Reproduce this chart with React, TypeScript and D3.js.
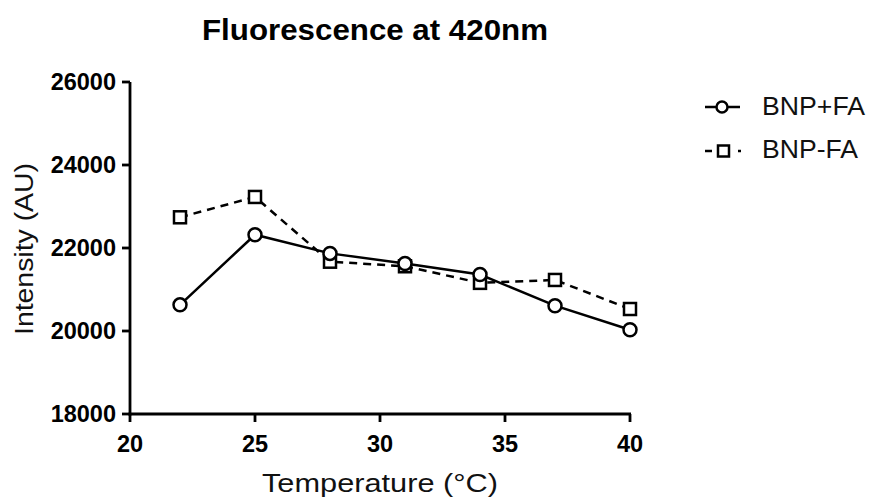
import React from "react";
import * as d3 from "d3";

const temperatures = [22, 25, 28, 31, 34, 37, 40];
const bnpPlusFa = [20630, 22320, 21870, 21625, 21360, 20610, 20030];
const bnpMinusFa = [22740, 23230, 21670, 21560, 21160, 21230, 20530];
const xTicks = [20, 25, 30, 35, 40];
const yTicks = [18000, 20000, 22000, 24000, 26000];
const seriesNames = ["BNP+FA", "BNP-FA"];

const W = 869;
const H = 498;
const FONT = "'Liberation Sans', Arial, sans-serif";

export default function App() {
  const x = d3.scaleLinear().domain([20, 40]).range([130, 630]);
  const y = d3.scaleLinear().domain([18000, 26000]).range([414, 82]);

  const line = d3
    .line<[number, number]>()
    .x((d) => x(d[0]))
    .y((d) => y(d[1]));

  const plus: [number, number][] = temperatures.map((t, i) => [t, bnpPlusFa[i]]);
  const minus: [number, number][] = temperatures.map((t, i) => [t, bnpMinusFa[i]]);

  const sq = 12;
  const sw = 2.5;

  return (
    <svg width={W} height={H} style={{ position: "absolute", left: 0, top: 0 }}>
      <rect width={W} height={H} fill="#fff" />
      <text
        x={375}
        y={40}
        textAnchor="middle"
        fontFamily={FONT}
        fontWeight="bold"
        fontSize={30}
        textLength={346}
        lengthAdjust="spacingAndGlyphs"
      >
        Fluorescence at 420nm
      </text>

      {/* series lines */}
      <path d={line(minus) || ""} fill="none" stroke="#000" strokeWidth={sw} strokeDasharray="8,6" />
      <path d={line(plus) || ""} fill="none" stroke="#000" strokeWidth={sw} />

      {/* markers */}
      {minus.map((d, i) => (
        <rect
          key={"s" + i}
          x={x(d[0]) - sq / 2}
          y={y(d[1]) - sq / 2}
          width={sq}
          height={sq}
          fill="#fff"
          stroke="#000"
          strokeWidth={sw}
        />
      ))}
      {plus.map((d, i) => (
        <circle key={"c" + i} cx={x(d[0])} cy={y(d[1])} r={6.5} fill="#fff" stroke="#000" strokeWidth={sw} />
      ))}

      {/* axes */}
      <line x1={130} x2={130} y1={y(26000)} y2={y(18000) + 1.5} stroke="#000" strokeWidth={2.8} />
      <line x1={128.6} x2={631} y1={414} y2={414} stroke="#000" strokeWidth={2.8} />
      {yTicks.map((t) => (
        <g key={"y" + t}>
          <line x1={122} x2={130} y1={y(t)} y2={y(t)} stroke="#000" strokeWidth={2.8} />
          <text x={116} y={y(t) + 7.5} textAnchor="end" fontFamily={FONT} fontWeight="bold" fontSize={23.5}>
            {t}
          </text>
        </g>
      ))}
      {xTicks.map((t) => (
        <g key={"x" + t}>
          <line x1={x(t)} x2={x(t)} y1={414} y2={422} stroke="#000" strokeWidth={2.8} />
          <text x={x(t)} y={452} textAnchor="middle" fontFamily={FONT} fontWeight="bold" fontSize={23.5}>
            {t}
          </text>
        </g>
      ))}

      <text
        transform={`translate(33,249) rotate(-90)`}
        textAnchor="middle"
        fontFamily={FONT}
        fontSize={26}
        fill="#111"
        textLength={172}
        lengthAdjust="spacingAndGlyphs"
      >
        Intensity (AU)
      </text>
      <text
        x={380}
        y={492}
        textAnchor="middle"
        fontFamily={FONT}
        fontSize={26}
        fill="#111"
        textLength={236}
        lengthAdjust="spacingAndGlyphs"
      >
        Temperature (°C)
      </text>

      {/* legend */}
      <g>
        <line x1={705} x2={740} y1={107} y2={107} stroke="#000" strokeWidth={sw} />
        <circle cx={722} cy={107} r={5.5} fill="#fff" stroke="#000" strokeWidth={sw} />
        <text
          x={762}
          y={115}
          fontFamily={FONT}
          fontSize={25.5}
          fill="#111"
          textLength={103}
          lengthAdjust="spacingAndGlyphs"
        >
          {seriesNames[0]}
        </text>
        <line x1={705} x2={712} y1={151} y2={151} stroke="#000" strokeWidth={sw} />
        <line x1={738} x2={741} y1={151} y2={151} stroke="#000" strokeWidth={sw} />
        <rect x={718} y={145.5} width={11} height={11} fill="#fff" stroke="#000" strokeWidth={sw} />
        <text
          x={762}
          y={158}
          fontFamily={FONT}
          fontSize={25.5}
          fill="#111"
          textLength={96}
          lengthAdjust="spacingAndGlyphs"
        >
          {seriesNames[1]}
        </text>
      </g>
    </svg>
  );
}
